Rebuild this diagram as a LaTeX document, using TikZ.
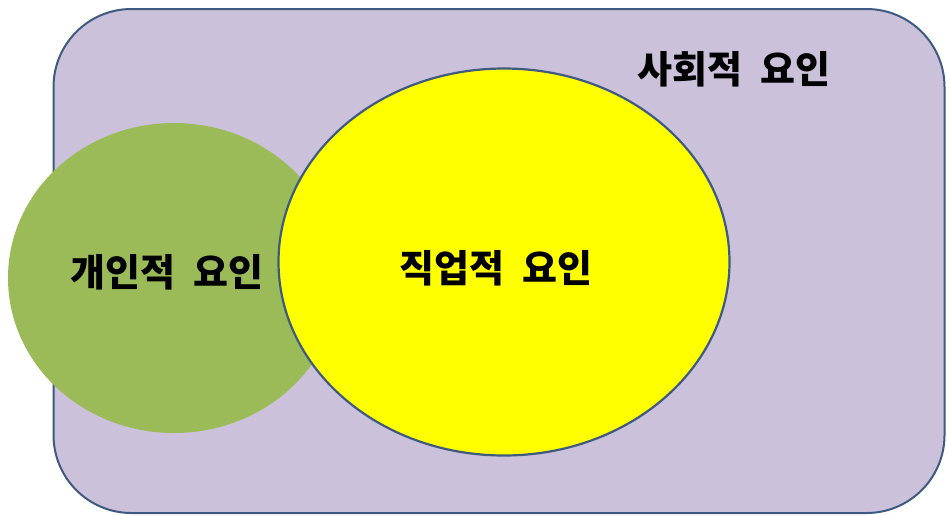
\documentclass[tikz,border=0pt]{standalone}
\usepackage{fontspec}
\setmainfont{Noto Sans CJK KR}
\usetikzlibrary{shapes.geometric}
\definecolor{lav}{HTML}{CCC1DA}
\definecolor{frame}{HTML}{3E5A80}
\definecolor{leaf}{HTML}{9BBB59}
\definecolor{yel}{HTML}{FFFF00}
\newcommand{\wsp}{\hspace{0.5em}}
\tikzset{
  lbl/.style={font=\fontsize{38}{41}\selectfont\bfseries, text=black, inner sep=0pt},
  blob/.style={ellipse, inner sep=0pt}
}
\begin{document}
\begin{tikzpicture}[x=1pt,y=-1pt]
\useasboundingbox (0,0) rectangle (947,515);
\node[draw=frame, line width=2pt, fill=lav, rounded corners=78pt, minimum width=891pt, minimum height=504pt, inner sep=0pt] (soc) at (499,261) {};
\node[blob, fill=leaf, minimum width=332pt, minimum height=310pt] (per) at (174,278) {};
\node[blob, draw=frame, line width=2.2pt, fill=yel, minimum width=451pt, minimum height=387pt] (job) at (504,262) {};
\node[lbl] (tsoc) at (734,69) {사회적\wsp 요인};
\node[lbl] (tper) at (167,272) {개인적\wsp 요인};
\node[lbl] (tjob) at (496,268) {직업적\wsp 요인};
\end{tikzpicture}
\end{document}
